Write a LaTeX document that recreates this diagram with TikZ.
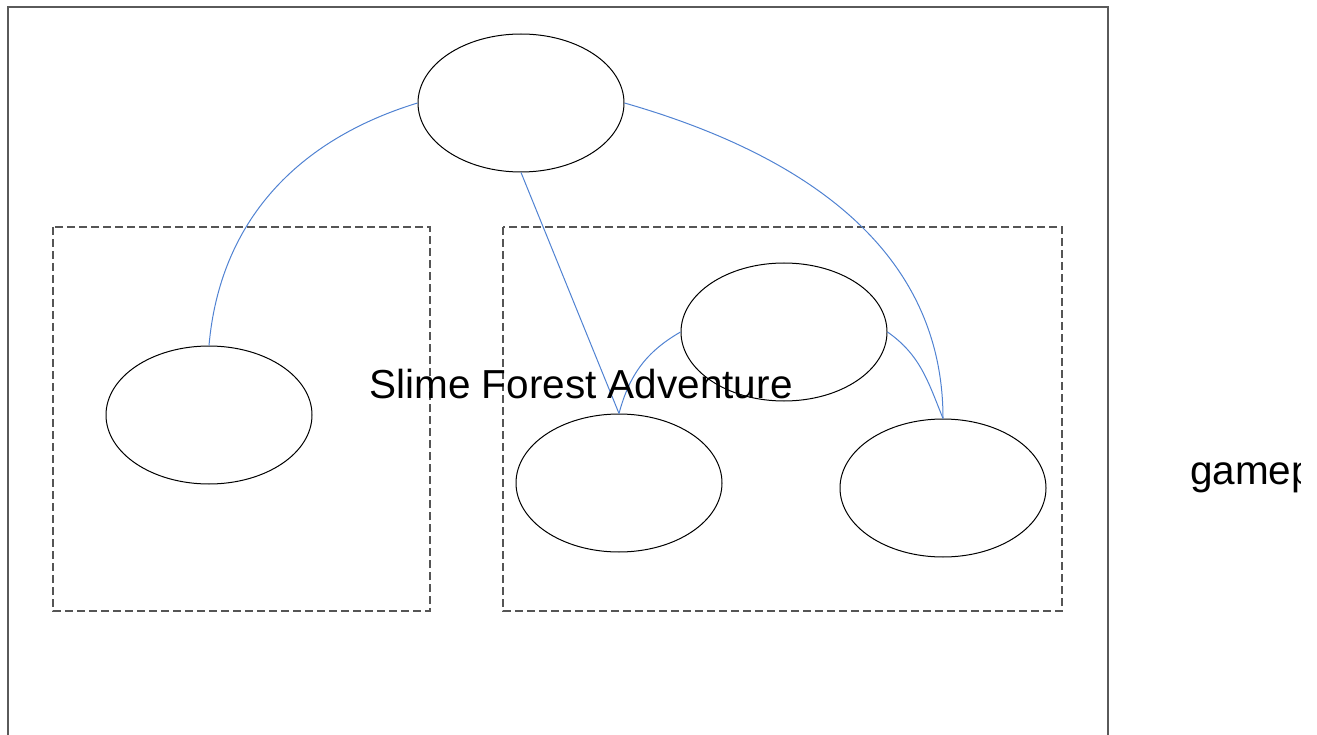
\documentclass[tikz,border=0pt]{standalone}
\usepackage{fontspec}
\setmainfont{Liberation Sans}
\usetikzlibrary{shapes.geometric}
\definecolor{linkblue}{RGB}{80,130,210}
\definecolor{framegray}{RGB}{90,90,90}
\definecolor{dashgray}{RGB}{85,85,85}
\tikzset{
  blob/.style={ellipse, draw=black, line width=1pt, minimum width=206pt, minimum height=138pt, inner sep=0pt},
  link/.style={draw=linkblue, line width=1pt},
  groupbox/.style={draw=dashgray, line width=1.2pt, dash pattern=on 8pt off 4pt},
  bigtext/.style={font=\fontsize{40.5}{48}\selectfont, inner sep=0pt}
}
\begin{document}
\begin{tikzpicture}[x=1pt,y=-1pt]
\useasboundingbox (0,0) rectangle (1317,735);
\clip (0,0) rectangle (1317,735);
% outer frame
\draw[draw=framegray, line width=2pt] (8,745) -- (8,7) -- (1108,7) -- (1108,745);
% group boxes
\draw[groupbox] (53,227) rectangle (430,611);
\draw[groupbox] (503,227) rectangle (1062,611);
% ellipses
\node[blob] (top) at (521,103) {};
\node[blob] (left) at (209,415) {};
\node[blob] (mid) at (784,332) {};
\node[blob] (bl) at (619,483) {};
\node[blob] (br) at (943,488) {};
% connectors
\draw[link] (top.west) to[out=197,in=85] (left.north);
\draw[link] (top.south) -- (bl.north);
\draw[link] (top.east) to[out=-16,in=90] (br.north);
\draw[link] (mid.west) to[out=210,in=75] (bl.north);
\draw[link] (mid.east) to[out=-35,in=112] (br.north);
% texts
\node[bigtext, anchor=base] (title) at (581,398) {Slime Forest Adventure};
\begin{scope}
\clip (0,0) rectangle (1300,735);
\node[bigtext, anchor=base west] (gp) at (1190,484) {gameplay};
\end{scope}
\end{tikzpicture}
\end{document}
